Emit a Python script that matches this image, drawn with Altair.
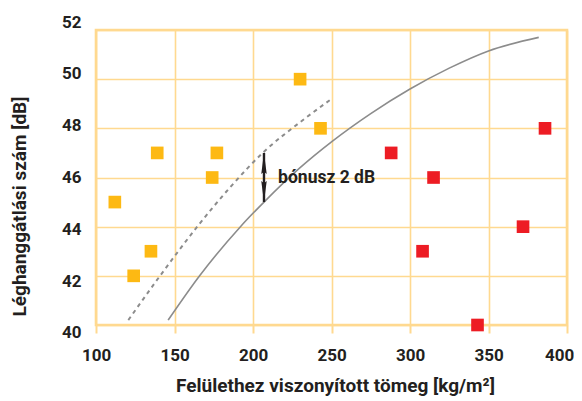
import altair as alt
import pandas as pd

# ---- data ----
yellow_x = [112, 124, 135, 139, 174, 177, 230, 243]
yellow_y = [45, 42, 43, 47, 46, 47, 50, 48]
red_x = [288, 308, 315, 343, 372, 386]
red_y = [47, 43, 46, 40, 44, 48]

solid_x = [146, 166, 192, 207, 230, 250, 275, 300, 325, 350, 382]
solid_y = [40.2, 42.0, 44.0, 45.0, 46.4, 47.45, 48.6, 49.6, 50.45, 51.15, 51.7]

dashed_x = [120.6, 140.8, 164.5, 185.4, 207, 230, 249]
dashed_y = [40.2, 42.0, 44.0, 45.6, 47.05, 48.25, 49.15]

arrow_x = [207]
arrow_y1 = [45]
arrow_y2 = [47]
note_x = [216]
note_y = [46]
note_text = ["bónusz 2 dB"]

x_ticks = [100, 150, 200, 250, 300, 350, 400]
y_ticks = [40, 42, 44, 46, 48, 50, 52]

GRID = "#FFD990"
DARK = "#231F20"
FONT = "Roboto"

pts = pd.DataFrame({
    "x": yellow_x + red_x,
    "y": yellow_y + red_y,
    "g": ["y"] * len(yellow_x) + ["r"] * len(red_x),
})
solid = pd.DataFrame({"x": solid_x, "y": solid_y})
dashed = pd.DataFrame({"x": dashed_x, "y": dashed_y})
arrow = pd.DataFrame({"x": arrow_x, "y1": arrow_y1, "y2": arrow_y2})
note = pd.DataFrame({"x": note_x, "y": note_y, "t": note_text})

xscale = alt.Scale(domain=[100, 400], nice=False, zero=False)
yscale = alt.Scale(domain=[40, 52], nice=False, zero=False)

xaxis = alt.Axis(
    values=x_ticks, grid=True, gridColor=GRID, gridWidth=1.6, domain=False,
    ticks=True, tickColor=GRID, tickSize=8, tickWidth=2,
    labelFont=FONT, labelFontSize=17, labelFontWeight="bold", labelColor=DARK,
    labelPadding=14, labelFlush=False,
    labelOffset=alt.ExprRef("datum.value == 400 ? -8 : 0"),
    title="Felülethez viszonyított tömeg [kg/m²]",
    titleFont=FONT, titleFontSize=19, titleFontWeight="bold", titleColor=DARK,
    titleBaseline="alphabetic", titleY=66, titleX=239,
)
yaxis = alt.Axis(
    values=y_ticks, grid=True, gridColor=GRID, gridWidth=1.6, domain=False,
    ticks=False, tickSize=0,
    labelFont=FONT, labelFontSize=17, labelFontWeight="bold", labelColor=DARK,
    labelPadding=15, labelFlush=False, labelOverlap=False,
    labelOffset=alt.ExprRef("(46 - datum.value) * 1.333"),
    title="Léghanggátlási szám [dB]",
    titleFont=FONT, titleFontSize=19, titleFontWeight="bold", titleColor=DARK,
    titleAngle=-90, titleAlign="center", titleBaseline="middle",
    titleX=-77, titleY=176,
)

base_x = alt.X("x:Q", scale=xscale, axis=xaxis)
base_y = alt.Y("y:Q", scale=yscale, axis=yaxis)

points = alt.Chart(pts).mark_square(size=160, opacity=1).encode(
    x=base_x, y=base_y,
    color=alt.Color("g:N", scale=alt.Scale(domain=["y", "r"], range=["#FDB913", "#ED1C24"]), legend=None),
)

solid_line = alt.Chart(solid).mark_line(color="#8C8C8C", strokeWidth=1.6, interpolate="monotone").encode(
    x="x:Q", y="y:Q"
)
dashed_line = alt.Chart(dashed).mark_line(color="#8C8C8C", strokeWidth=2, strokeDash=[4, 4], interpolate="monotone").encode(
    x="x:Q", y="y:Q"
)

arrow_rule = alt.Chart(arrow).mark_rule(color=DARK, strokeWidth=2.4).encode(
    x="x:Q", y="y1:Q", y2="y2:Q"
)
head_up = alt.Chart(arrow).mark_point(
    shape="M0,-1L0.26,1L0,0.8L-0.26,1Z", size=440, filled=True, color=DARK, opacity=1, yOffset=10.5
).encode(x="x:Q", y="y2:Q")
head_down = alt.Chart(arrow).mark_point(
    shape="M0,1L0.26,-1L0,-0.8L-0.26,-1Z", size=440, filled=True, color=DARK, opacity=1, yOffset=-10.5
).encode(x="x:Q", y="y1:Q")

note_text_mark = alt.Chart(note).mark_text(
    align="left", baseline="middle", font=FONT, fontSize=17.5, fontWeight="bold", color=DARK
).encode(x="x:Q", y="y:Q", text="t:N")

chart = alt.layer(
    points, solid_line, dashed_line, arrow_rule, head_up, head_down, note_text_mark
).properties(
    width=471, height=295,
    autosize=alt.AutoSizeParams(type="none"),
    padding={"left": 88, "top": 22, "right": 7, "bottom": 72},
).configure_view(
    stroke=GRID, strokeWidth=2.6
)

chart.save("out.html", embed_options={"renderer": "svg", "actions": False})
